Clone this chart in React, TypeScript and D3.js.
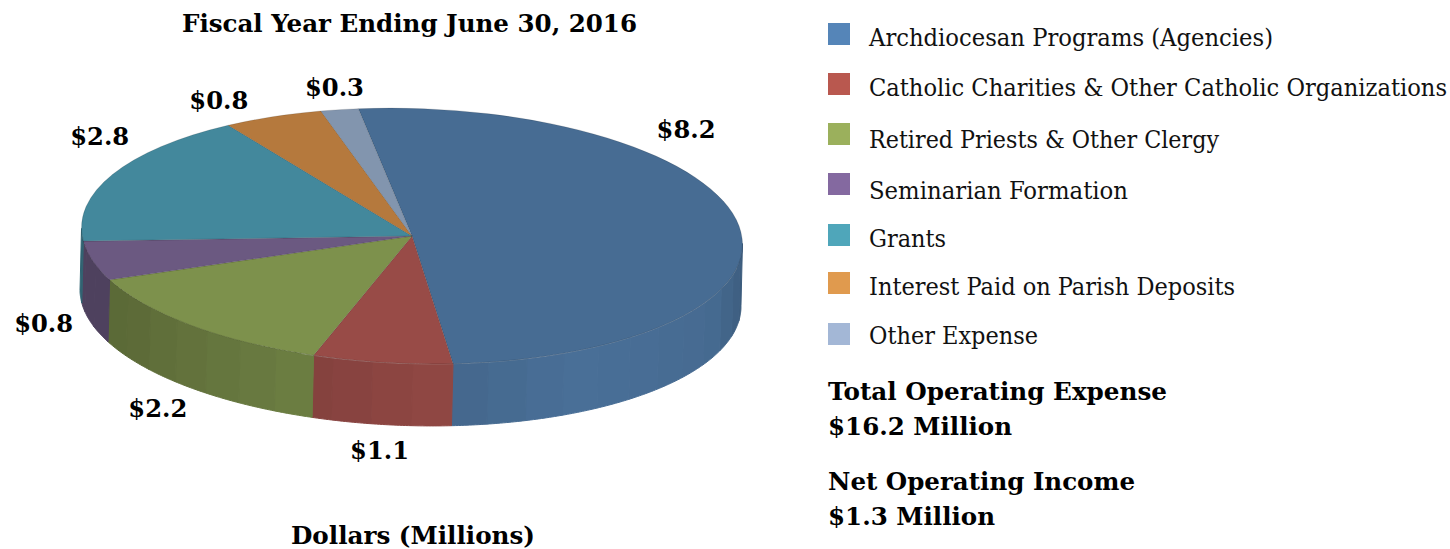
import React from "react";
import * as d3 from "d3";

const categories = [
  "Archdiocesan Programs (Agencies)",
  "Catholic Charities & Other Catholic Organizations",
  "Retired Priests & Other Clergy",
  "Seminarian Formation",
  "Grants",
  "Interest Paid on Parish Deposits",
  "Other Expense",
];
const values = [8.2, 1.1, 2.2, 0.8, 2.8, 0.8, 0.3];
const topColors = ["#476c93", "#984b47", "#7d914c", "#6b5981", "#43889c", "#b5793d", "#8295ae"];
const legendColors = ["#5585b8", "#b9584f", "#9bb05c", "#8469a0", "#4fa6ba", "#e09a4e", "#a3b7d6"];

// layout only: nudges from the slice mid-rim to the label, legend rows
const labelNudges = [[-53, -88], [-3, 97], [-34, 91], [-49, 71], [-13, -29], [-54, -7.5], [-5, -14]];
const legendBaselines = [46, 96, 148, 199, 247, 295, 344];
const legendSwatchTops = [23, 73, 123, 173, 224, 272, 323];
const legendWidths = [404, 578, 350, 259, 77, 366, 169];

const cx = 412;
const cy = 236;
const rx = 330.6;
const ry = 127.6;
const tilt = 1.7; // the ellipse leans a little clockwise
const depth = 62;
const depthX = -1.5;
const rad = Math.PI / 180;

const serif = "'DejaVu Serif Condensed', 'DejaVu Serif', serif";
const boldSerif = "'DejaVu Serif', serif";

function rim(deg: number): [number, number] {
  const x = rx * Math.sin(deg * rad);
  const y = -ry * Math.cos(deg * rad);
  const c = Math.cos(tilt * rad);
  const s = Math.sin(tilt * rad);
  return [cx + x * c - y * s, cy + x * s + y * c];
}

function wallShade(deg: number) {
  if (deg < 150) return 1.03 - 0.0012 * (150 - deg) - 0.005 * Math.max(0, 115 - deg);
  return Math.max(0.73, 1.03 - 0.0034 * (deg - 150));
}

function Bold({ x, y, w, size = 25, anchor = "start", children }: any) {
  return (
    <text
      x={x}
      y={y}
      textAnchor={anchor}
      textLength={w}
      lengthAdjust="spacingAndGlyphs"
      fontFamily={boldSerif}
      fontWeight="bold"
      fontSize={size}
      fill="#000"
    >
      {children}
    </text>
  );
}

export default function App() {
  const slices = d3
    .pie<number>()
    .sort(null)
    .startAngle(-10 * rad)
    .endAngle(350 * rad)(values);

  // big radius: d3.arc rounds to 3 digits, which bends a near half circle at radius 1
  const unit = 1000;
  const arc = d3.arc<d3.PieArcDatum<number>>().innerRadius(0).outerRadius(unit);
  const line = d3.line();

  // side wall, cut in narrow facets so the light steps round the rim
  const facets: { d: string; fill: string }[] = [];
  slices.forEach((s, i) => {
    const a0 = Math.max(s.startAngle / rad, 89);
    const a1 = Math.min(s.endAngle / rad, 269);
    if (a1 <= a0) return;
    const steps = d3.range(a0, a1, 7).concat(a1);
    for (let k = 0; k < steps.length - 1; k++) {
      const top = d3.range(steps[k], steps[k + 1], 0.5).concat(steps[k + 1]).map(rim);
      const bottom = top.map(([x, y]) => [x + depthX, y + depth] as [number, number]).reverse();
      const shade = wallShade((steps[k] + steps[k + 1]) / 2);
      const base = d3.rgb(topColors[i]);
      const col = d3.rgb(base.r * shade, base.g * shade, base.b * shade).formatHex();
      facets.push({ d: line([...top, ...bottom]) + "Z", fill: col });
    }
  });

  const highlight = line(d3.range(100, 200, 1).map(rim)) as string;

  return (
    <svg
      width={1450}
      height={549}
      style={{ position: "absolute", left: 0, top: 0, display: "block" }}
    >
      <rect width={1450} height={549} fill="#fff" />
      <Bold x={182} y={32} w={455}>Fiscal Year Ending June 30, 2016</Bold>

      <g>
        {facets.map((f, i) => (
          <path key={i} d={f.d} fill={f.fill} stroke={f.fill} strokeWidth={1} />
        ))}
      </g>
      <path d={highlight} fill="none" stroke="#fff" strokeOpacity={0.25} strokeWidth={1} />
      <g transform={`translate(${cx},${cy}) rotate(${tilt}) scale(${rx / unit},${ry / unit})`}>
        {slices.map((s, i) => (
          <path
            key={i}
            d={arc(s) as string}
            fill={topColors[i]}
            stroke="#000"
            strokeOpacity={0.18}
            strokeWidth={0.7}
            vectorEffect="non-scaling-stroke"
          />
        ))}
      </g>

      {slices.map((s, i) => {
        const [x, y] = rim((s.startAngle + s.endAngle) / 2 / rad);
        return (
          <Bold key={i} x={x + labelNudges[i][0]} y={y + labelNudges[i][1]} w={59} anchor="middle">
            {"$" + values[i].toFixed(1)}
          </Bold>
        );
      })}

      <Bold x={291} y={544} w={244} size={24}>Dollars (Millions)</Bold>

      {categories.map((c, i) => (
        <g key={c}>
          <rect x={828} y={legendSwatchTops[i]} width={22} height={22} fill={legendColors[i]} />
          <text
            x={869}
            y={legendBaselines[i]}
            textLength={legendWidths[i]}
            lengthAdjust="spacingAndGlyphs"
            fontFamily={serif}
            fontSize={25}
            fill="#111"
          >
            {c}
          </text>
        </g>
      ))}

      <Bold x={828} y={400} w={339}>Total Operating Expense</Bold>
      <Bold x={828} y={435} w={184}>$16.2 Million</Bold>
      <Bold x={828} y={490} w={307}>Net Operating Income</Bold>
      <Bold x={828} y={525} w={167}>$1.3 Million</Bold>
    </svg>
  );
}
